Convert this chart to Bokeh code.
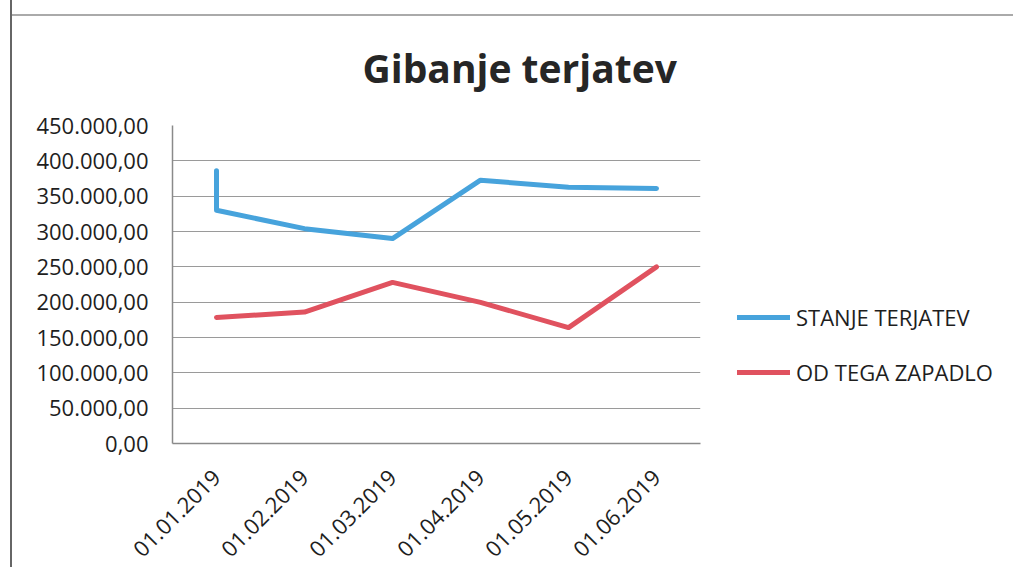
import math
from bokeh.plotting import figure
from bokeh.models import FixedTicker, Legend, LegendItem, Title
from bokeh.embed import file_html
from bokeh.resources import INLINE

categories = ["01.01.2019", "01.02.2019", "01.03.2019", "01.04.2019", "01.05.2019", "01.06.2019"]
# blue series starts with a vertical jump at the first category
stanje_x = ["01.01.2019", "01.01.2019", "01.02.2019", "01.03.2019", "01.04.2019", "01.05.2019", "01.06.2019"]
stanje = [385800, 330000, 304000, 290000, 372600, 362600, 361000]
zapadlo = [178400, 186000, 228000, 199700, 164000, 250000]
y_ticks = [0, 50000, 100000, 150000, 200000, 250000, 300000, 350000, 400000, 450000]
y_tick_labels = ["0,00", "50.000,00", "100.000,00", "150.000,00", "200.000,00",
                 "250.000,00", "300.000,00", "350.000,00", "400.000,00", "450.000,00"]

FONT = "Open Sans"
BLUE = "#47a3dc"
RED = "#e0525f"

p = figure(x_range=categories, y_range=(0, 450000),
           frame_width=528, frame_height=318,
           min_border_left=160, min_border_right=290,
           min_border_top=125, min_border_bottom=115,
           output_backend="svg", toolbar_location=None)
p.styles = {"border-left": "2px solid #666",
            "margin-top": "0px", "margin-left": "10px",
            "background": "linear-gradient(#aaa, #aaa) 0 14px / 100% 2px no-repeat, white"}
p.outline_line_color = None
p.background_fill_color = "white"
p.border_fill_color = None

t = Title(text="Gibanje terjatev", align="left", offset=190,
          text_font=FONT, text_font_size="39px", text_font_style="bold",
          text_color="#262626", standoff=64)
p.add_layout(t, "above")

r1 = p.line(stanje_x, stanje, line_color=BLUE, line_width=5, line_join="round", line_cap="round")
r2 = p.line(categories, zapadlo, line_color=RED, line_width=5, line_join="round", line_cap="round")

p.yaxis.ticker = FixedTicker(ticks=y_ticks)
p.yaxis.major_label_overrides = {v: s for v, s in zip(y_ticks, y_tick_labels)}
for ax in (p.xaxis[0], p.yaxis[0]):
    ax.axis_line_color = "#8a8a8a"
    ax.axis_line_width = 1.5
    ax.major_tick_line_color = None
    ax.minor_tick_line_color = None
    ax.major_label_text_font = FONT
    ax.major_label_text_font_size = "22px"
    ax.major_label_text_color = "#1e1e1e"
p.yaxis.major_label_standoff = 18
p.xaxis.major_label_orientation = math.pi / 4
p.xaxis.major_label_standoff = 24

p.xgrid.grid_line_color = None
p.ygrid.grid_line_color = "#9a9a9a"
p.ygrid.grid_line_width = 1

legend = Legend(items=[LegendItem(label="STANJE TERJATEV", renderers=[r1]),
                       LegendItem(label="OD TEGA ZAPADLO", renderers=[r2])],
                location=(37, 56), orientation="vertical",
                glyph_width=53, glyph_height=30, label_height=30, label_standoff=6,
                spacing=25, padding=0, margin=0,
                border_line_alpha=0, background_fill_alpha=0,
                label_text_font=FONT, label_text_font_size="22px",
                label_text_color="#1e1e1e")
p.add_layout(legend, "right")

open("out.html", "w").write(file_html(p, INLINE))
